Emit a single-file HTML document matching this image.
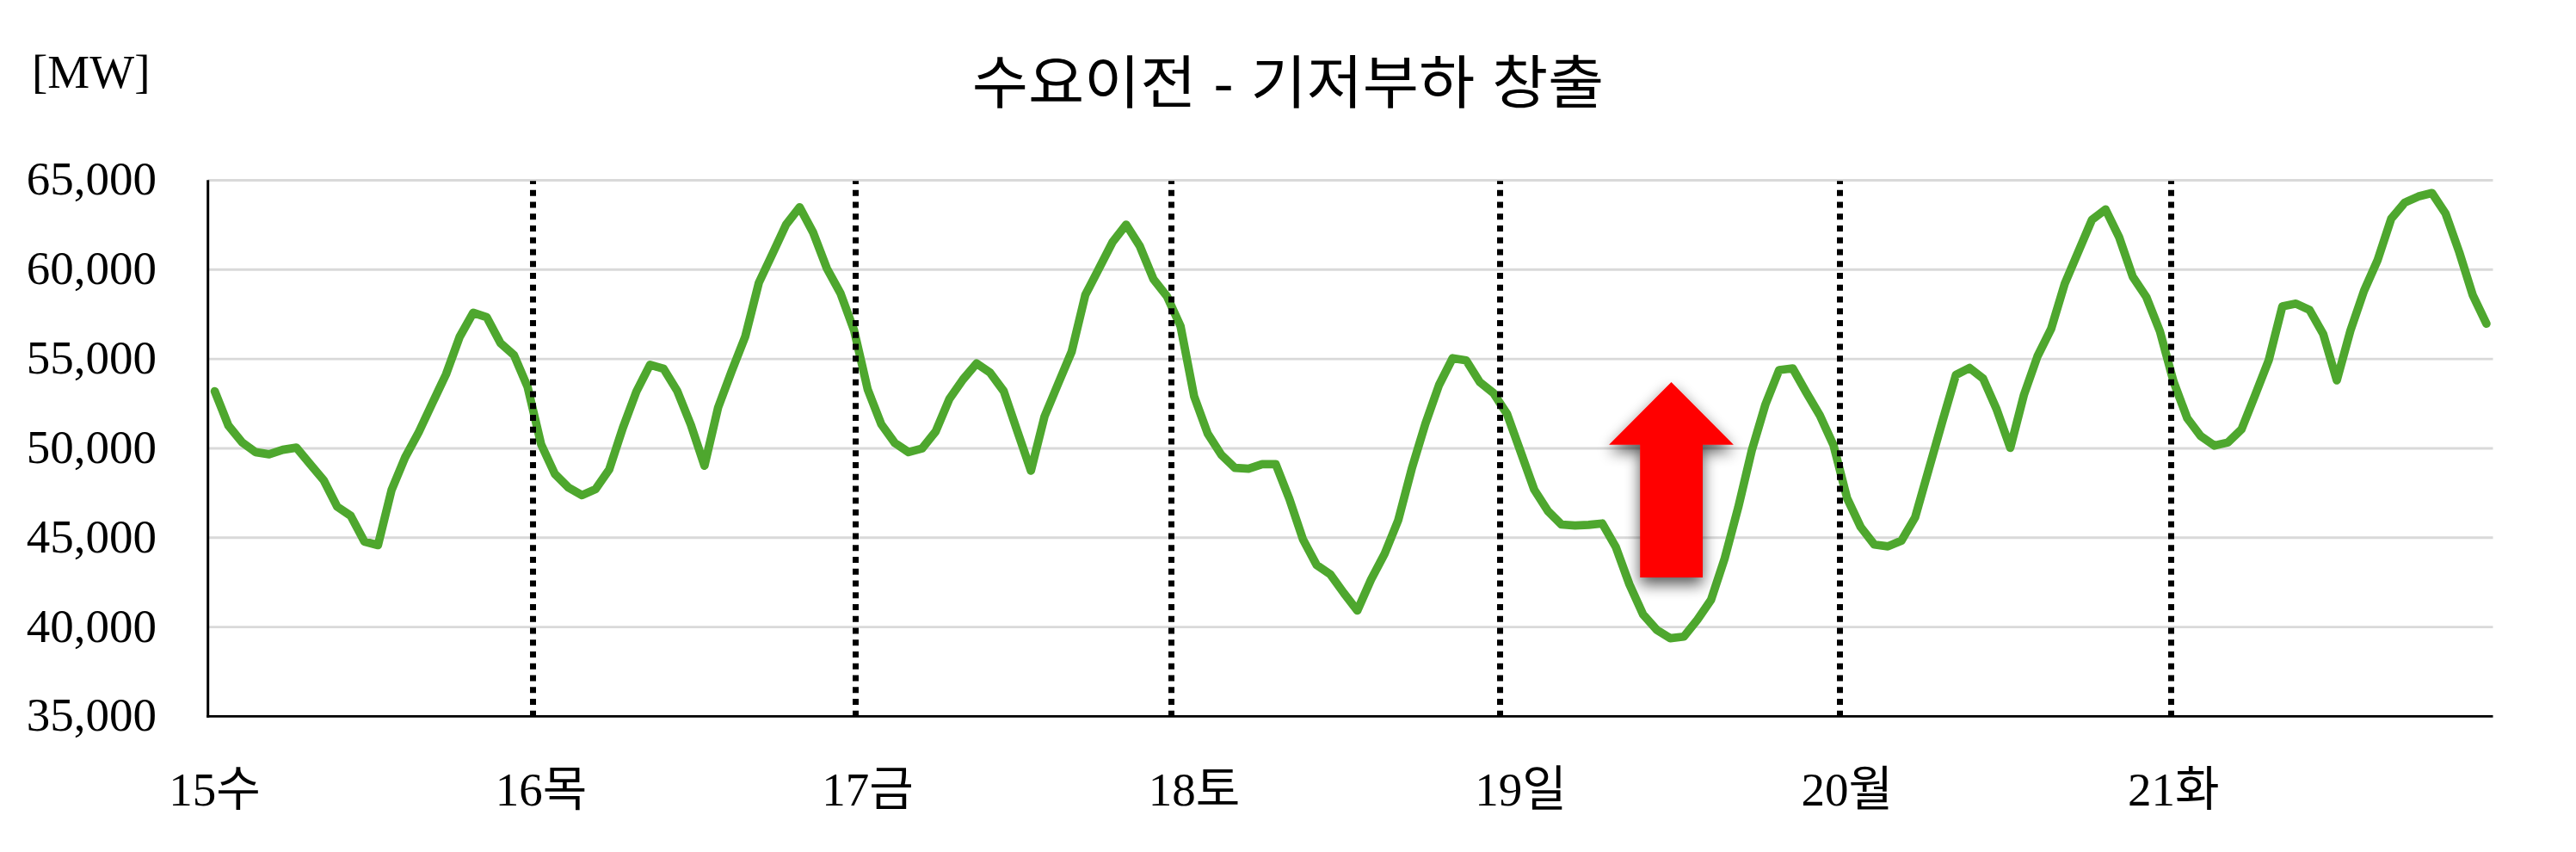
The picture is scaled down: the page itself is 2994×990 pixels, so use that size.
<!DOCTYPE html>
<html lang="ko">
<head>
<meta charset="utf-8">
<title>수요이전 - 기저부하 창출</title>
<style>
html,body{margin:0;padding:0;background:#fff;}
body{width:2994px;height:990px;overflow:hidden;}
svg{display:block;}
.num{font-family:"Liberation Serif", "Noto Sans CJK KR", serif;font-size:55px;fill:#000;}
.ko{font-family:"Liberation Sans", "Noto Sans CJK KR", sans-serif;fill:#000;}
</style>
</head>
<body>
<svg width="2994" height="990" viewBox="0 0 2994 990">
<defs><filter id="sh" x="-40%" y="-20%" width="180%" height="150%"><feGaussianBlur in="SourceAlpha" stdDeviation="8.5"/><feOffset dx="0" dy="7.5" result="b"/><feComponentTransfer><feFuncA type="linear" slope="0.66"/></feComponentTransfer><feMerge><feMergeNode/><feMergeNode in="SourceGraphic"/></feMerge></filter></defs>
<rect width="2994" height="990" fill="#fff"/>
<line x1="241.7" y1="209.50" x2="2897.5" y2="209.50" stroke="#D9D9D9" stroke-width="2.9"/>
<line x1="241.7" y1="313.32" x2="2897.5" y2="313.32" stroke="#D9D9D9" stroke-width="2.9"/>
<line x1="241.7" y1="417.14" x2="2897.5" y2="417.14" stroke="#D9D9D9" stroke-width="2.9"/>
<line x1="241.7" y1="520.96" x2="2897.5" y2="520.96" stroke="#D9D9D9" stroke-width="2.9"/>
<line x1="241.7" y1="624.78" x2="2897.5" y2="624.78" stroke="#D9D9D9" stroke-width="2.9"/>
<line x1="241.7" y1="728.60" x2="2897.5" y2="728.60" stroke="#D9D9D9" stroke-width="2.9"/>
<line x1="241.7" y1="209.3" x2="241.7" y2="833.85" stroke="#000" stroke-width="3"/>
<line x1="240.2" y1="832.4" x2="2897.5" y2="832.4" stroke="#000" stroke-width="2.9"/>
<polyline fill="none" stroke="#4EA72E" stroke-width="9.7" stroke-linejoin="round" stroke-linecap="round" points="249.6,454.6 265.4,494.4 281.2,513.8 297.0,525.4 312.8,527.9 328.7,522.6 344.5,520.1 360.3,539.2 376.1,557.8 391.9,588.8 407.7,599.4 423.5,629.3 439.3,633.5 455.1,569.4 470.9,531.4 486.8,502.0 502.6,468.2 518.4,435.0 534.2,391.5 550.0,363.4 565.8,368.7 581.6,398.6 597.4,412.7 613.2,449.6 629.0,516.5 644.9,550.7 660.7,566.5 676.5,575.4 692.3,568.3 708.1,545.4 723.9,497.2 739.7,454.9 755.5,423.9 771.3,428.5 787.1,454.2 803.0,493.7 818.8,541.2 834.6,473.6 850.4,431.3 866.2,391.0 882.0,328.5 897.8,295.0 913.6,261.0 929.4,240.8 945.2,270.4 961.1,312.0 976.9,340.8 992.7,384.0 1008.5,452.5 1024.3,493.0 1040.1,514.8 1055.9,525.4 1071.7,521.1 1087.5,501.4 1103.3,463.8 1119.2,441.0 1135.0,422.3 1150.8,433.1 1166.6,454.5 1182.4,501.0 1198.2,547.0 1214.0,484.0 1229.8,446.0 1245.6,408.5 1261.4,342.8 1277.3,312.1 1293.1,281.3 1308.9,261.0 1324.7,285.9 1340.5,324.2 1356.3,344.2 1372.1,379.0 1387.9,460.6 1403.7,503.9 1419.5,528.5 1435.4,543.7 1451.2,544.7 1467.0,539.4 1482.8,539.4 1498.6,579.7 1514.4,626.8 1530.2,656.4 1546.0,667.2 1561.8,689.0 1577.6,709.5 1593.5,673.5 1609.3,643.5 1625.1,604.5 1640.9,544.4 1656.7,492.3 1672.5,447.5 1688.3,416.2 1704.1,418.7 1719.9,444.0 1735.7,456.6 1751.6,481.0 1767.4,525.0 1783.2,569.0 1799.0,593.7 1814.8,609.5 1830.6,610.6 1846.4,609.9 1862.2,608.2 1878.0,635.6 1893.8,679.0 1909.7,714.1 1925.5,731.8 1941.3,741.6 1957.1,739.8 1972.9,720.0 1988.7,697.0 2004.5,649.0 2020.3,589.6 2036.1,523.2 2051.9,470.0 2067.8,430.0 2083.6,428.0 2099.4,456.0 2115.2,482.8 2131.0,517.3 2146.8,578.9 2162.6,612.4 2178.4,632.8 2194.2,634.9 2210.0,628.2 2225.9,601.1 2241.7,545.5 2257.5,489.9 2273.3,435.6 2289.1,427.5 2304.9,439.9 2320.7,475.8 2336.5,520.4 2352.3,459.0 2368.1,414.0 2384.0,382.0 2399.8,329.6 2415.6,292.3 2431.4,255.3 2447.2,243.3 2463.0,275.7 2478.8,321.5 2494.6,345.1 2510.4,385.0 2526.2,443.2 2542.1,485.8 2557.9,506.8 2573.7,517.8 2589.5,514.1 2605.3,498.8 2621.1,459.0 2636.9,418.5 2652.7,356.0 2668.5,352.8 2684.3,360.2 2700.2,388.1 2716.0,442.0 2731.8,384.3 2747.6,338.0 2763.4,302.2 2779.2,254.2 2795.0,235.4 2810.8,228.3 2826.6,224.3 2842.4,248.1 2858.3,293.0 2874.1,343.2 2889.9,376.2"/>
<line x1="619.5" y1="210.2" x2="619.5" y2="832.4" stroke="#000" stroke-width="7" stroke-dasharray="6.9 6.85" stroke-dashoffset="3.1"/>
<line x1="994.5" y1="210.2" x2="994.5" y2="832.4" stroke="#000" stroke-width="7" stroke-dasharray="6.9 6.85" stroke-dashoffset="3.1"/>
<line x1="1361.5" y1="210.2" x2="1361.5" y2="832.4" stroke="#000" stroke-width="7" stroke-dasharray="6.9 6.85" stroke-dashoffset="3.1"/>
<line x1="1743.5" y1="210.2" x2="1743.5" y2="832.4" stroke="#000" stroke-width="7" stroke-dasharray="6.9 6.85" stroke-dashoffset="3.1"/>
<line x1="2138.5" y1="210.2" x2="2138.5" y2="832.4" stroke="#000" stroke-width="7" stroke-dasharray="6.9 6.85" stroke-dashoffset="3.1"/>
<line x1="2523.5" y1="210.2" x2="2523.5" y2="832.4" stroke="#000" stroke-width="7" stroke-dasharray="6.9 6.85" stroke-dashoffset="3.1"/>
<polygon filter="url(#sh)" fill="#FF0000" points="1942.5,443.9 2014.9,516.7 1979,516.7 1979,671 1906.2,671 1906.2,516.7 1870.1,516.7"/>
<text class="num" x="182" y="226.4" text-anchor="end">65,000</text>
<text class="num" x="182" y="330.2" text-anchor="end">60,000</text>
<text class="num" x="182" y="434.0" text-anchor="end">55,000</text>
<text class="num" x="182" y="537.9" text-anchor="end">50,000</text>
<text class="num" x="182" y="641.7" text-anchor="end">45,000</text>
<text class="num" x="182" y="745.5" text-anchor="end">40,000</text>
<text class="num" x="182" y="849.3" text-anchor="end">35,000</text>
<text class="num" x="37" y="102.2">[MW]</text>
<text class="num" x="249.6" y="935.6" text-anchor="middle">15<tspan class="ko" font-size="56">수</tspan></text>
<text class="num" x="629.0" y="935.6" text-anchor="middle">16<tspan class="ko" font-size="56">목</tspan></text>
<text class="num" x="1008.5" y="935.6" text-anchor="middle">17<tspan class="ko" font-size="56">금</tspan></text>
<text class="num" x="1387.9" y="935.6" text-anchor="middle">18<tspan class="ko" font-size="56">토</tspan></text>
<text class="num" x="1767.4" y="935.6" text-anchor="middle">19<tspan class="ko" font-size="56">일</tspan></text>
<text class="num" x="2146.8" y="935.6" text-anchor="middle">20<tspan class="ko" font-size="56">월</tspan></text>
<text class="num" x="2526.2" y="935.6" text-anchor="middle">21<tspan class="ko" font-size="56">화</tspan></text>
<text class="ko" transform="translate(1497 119.6) scale(1.05 1)" x="0" y="0" text-anchor="middle" font-size="67.5" letter-spacing="0">수요이전 - 기저부하 창출</text>
</svg>
</body>
</html>
